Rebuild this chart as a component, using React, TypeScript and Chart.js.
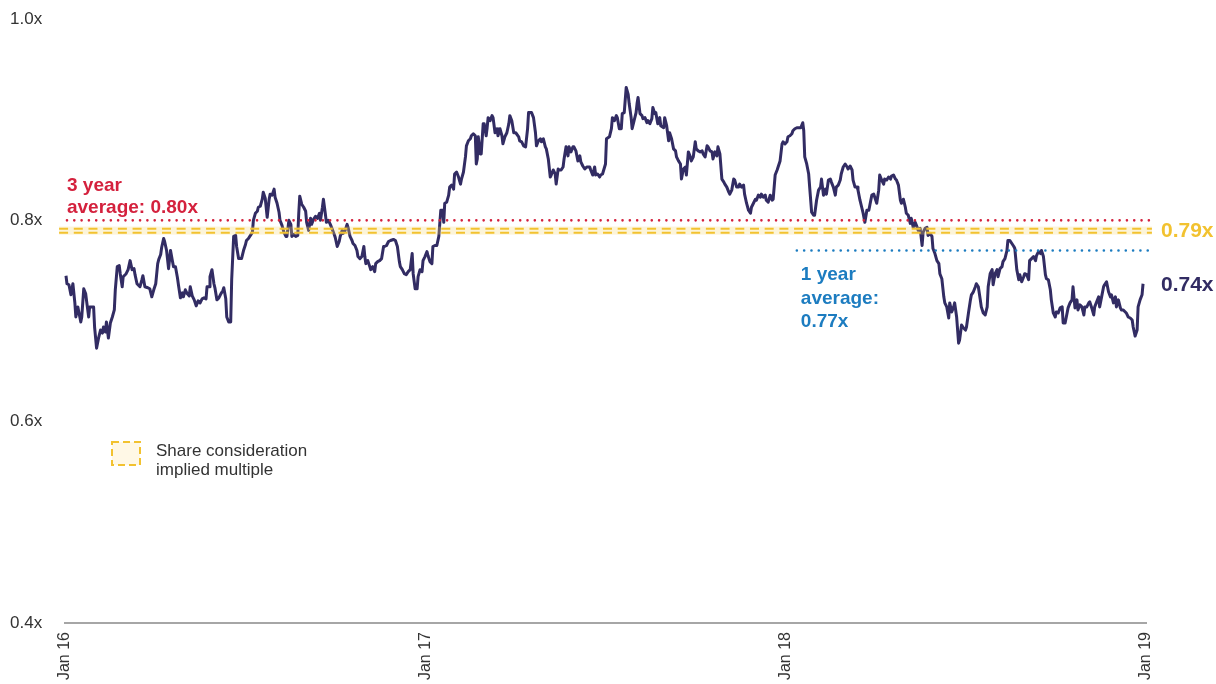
import { useEffect, useRef } from 'react';
import { Chart, registerables } from 'chart.js';

Chart.register(...registerables);

// ---- axis ticks (x = days since 1 Jan 2016) ----
const X_TICKS = [0, 366, 731, 1096];
const X_TICK_LABELS = ['Jan 16', 'Jan 17', 'Jan 18', 'Jan 19'];
const Y_TICKS = [0.4, 0.6, 0.8, 1.0];
const Y_TICK_LABELS = ['0.4x', '0.6x', '0.8x', '1.0x'];

// ---- reference levels ----
const AVG_3Y = 0.8;
const AVG_3Y_SPAN = [2, 1103];
const AVG_1Y = 0.77;
const AVG_1Y_SPAN = [742, 1105];
const IMPLIED_UPPER = 0.7916;
const IMPLIED_LOWER = 0.7877;
const IMPLIED_FILL = [0.7858, 0.7938];
const IMPLIED_SPAN = [-6, 1102];

// ---- labels ----
const AVG_3Y_TEXT = ['3 year', 'average: 0.80x'];
const AVG_1Y_TEXT = ['1 year', 'average:', '0.77x'];
const IMPLIED_TEXT = '0.79x';
const LAST_TEXT = '0.74x';
const LEGEND_TEXT = ['Share consideration', 'implied multiple'];

// ---- P/B multiple series: [day, multiple] ----
const SERIES_2016A: [number, number][] = [
  [1, 0.745], [2, 0.737], [4, 0.736], [6, 0.726], [8, 0.737], [10, 0.718], [11, 0.704], [13, 0.714],
  [14, 0.709], [16, 0.699], [17, 0.704], [19, 0.732], [21, 0.727], [22, 0.719], [24, 0.704], [25, 0.714],
  [29, 0.714], [30, 0.694], [32, 0.673], [34, 0.683], [36, 0.691], [38, 0.688], [39, 0.694], [41, 0.689],
  [42, 0.699], [44, 0.683], [46, 0.698], [48, 0.704], [50, 0.711], [51, 0.731], [53, 0.754], [55, 0.755],
  [56, 0.747], [58, 0.734], [59, 0.744], [62, 0.747], [64, 0.751], [66, 0.76], [68, 0.751], [70, 0.752],
  [71, 0.746], [73, 0.737], [76, 0.734], [78, 0.741], [79, 0.745], [81, 0.734], [84, 0.733], [86, 0.732],
  [88, 0.724], [90, 0.731], [92, 0.737], [94, 0.757], [95, 0.761], [97, 0.766], [98, 0.773], [100, 0.782],
  [101, 0.779], [103, 0.77], [105, 0.752], [107, 0.77], [109, 0.759], [110, 0.754], [112, 0.754], [114, 0.743],
  [115, 0.736], [117, 0.723], [119, 0.728], [120, 0.724], [122, 0.731], [124, 0.727], [126, 0.725], [127, 0.734],
  [129, 0.725], [131, 0.721], [133, 0.715], [135, 0.72], [137, 0.718], [139, 0.722], [141, 0.723], [143, 0.722],
  [144, 0.734], [146, 0.734], [147, 0.744], [149, 0.751], [151, 0.737], [152, 0.733], [154, 0.721], [156, 0.723],
  [158, 0.727], [160, 0.73], [161, 0.733], [163, 0.722], [164, 0.704], [166, 0.699], [168, 0.699], [169, 0.741],
  [171, 0.784], [173, 0.785], [174, 0.774], [176, 0.762], [179, 0.762], [181, 0.77], [183, 0.776], [184, 0.78],
  [186, 0.782], [188, 0.785], [190, 0.788], [191, 0.8], [193, 0.807], [195, 0.809], [196, 0.813], [198, 0.814],
  [200, 0.821], [201, 0.828], [203, 0.822], [205, 0.803], [207, 0.821], [208, 0.826], [210, 0.825], [212, 0.831],
  [213, 0.823], [215, 0.817], [217, 0.808], [218, 0.8], [220, 0.795], [222, 0.788], [224, 0.784], [225, 0.784],
  [227, 0.8], [229, 0.796], [230, 0.784], [232, 0.786], [234, 0.784], [236, 0.785], [237, 0.807], [238, 0.824],
  [240, 0.816], [242, 0.813], [244, 0.809], [245, 0.798], [247, 0.79], [249, 0.802], [250, 0.796], [252, 0.801],
  [254, 0.804], [256, 0.802], [258, 0.807], [259, 0.8], [261, 0.813], [262, 0.821], [264, 0.806], [265, 0.798],
  [267, 0.8], [269, 0.796], [271, 0.791], [273, 0.786], [274, 0.783], [276, 0.774], [278, 0.779], [279, 0.784],
];

const SERIES_2016B: [number, number][] = [
  [281, 0.79], [282, 0.787], [284, 0.79], [286, 0.796], [287, 0.793], [289, 0.784], [291, 0.78], [292, 0.777],
  [294, 0.775], [296, 0.77], [297, 0.764], [299, 0.762], [301, 0.764], [303, 0.774], [304, 0.764], [305, 0.757],
  [307, 0.76], [309, 0.754], [310, 0.751], [312, 0.754], [314, 0.749], [315, 0.757], [317, 0.759], [319, 0.76],
  [321, 0.762], [323, 0.774], [324, 0.774], [326, 0.775], [328, 0.779], [330, 0.78], [333, 0.781], [335, 0.78],
  [337, 0.774], [339, 0.759], [340, 0.754], [342, 0.751], [344, 0.747], [346, 0.746], [348, 0.749], [350, 0.751],
  [352, 0.767], [353, 0.747], [355, 0.732], [357, 0.732], [358, 0.744], [360, 0.751], [362, 0.749], [363, 0.76],
  [365, 0.764], [367, 0.769], [368, 0.765], [370, 0.759], [372, 0.757], [373, 0.774], [375, 0.775], [377, 0.775],
  [379, 0.784], [380, 0.797], [381, 0.81], [383, 0.81], [384, 0.798], [385, 0.817], [387, 0.818], [389, 0.825],
  [390, 0.833], [392, 0.835], [394, 0.831], [395, 0.846], [397, 0.848], [399, 0.843], [401, 0.836], [402, 0.841],
  [404, 0.848], [406, 0.863], [407, 0.874], [409, 0.879], [411, 0.881], [412, 0.884], [414, 0.886], [416, 0.884],
  [417, 0.856], [418, 0.861], [419, 0.883], [421, 0.866], [422, 0.866], [424, 0.896], [425, 0.896], [427, 0.884],
  [428, 0.892], [429, 0.902], [431, 0.899], [433, 0.904], [434, 0.902], [436, 0.887], [438, 0.891], [439, 0.884],
  [441, 0.891], [443, 0.884], [444, 0.876], [446, 0.883], [448, 0.887], [450, 0.896], [451, 0.904], [453, 0.899],
  [455, 0.887], [457, 0.887], [460, 0.883], [461, 0.879], [463, 0.878], [465, 0.874], [467, 0.873], [469, 0.891],
  [470, 0.907], [473, 0.907], [475, 0.902], [477, 0.887], [478, 0.874], [480, 0.879], [482, 0.881], [483, 0.878],
  [485, 0.881], [487, 0.873], [488, 0.871], [490, 0.861], [492, 0.843], [493, 0.845], [495, 0.85], [497, 0.846],
  [498, 0.836], [500, 0.851], [501, 0.85], [503, 0.85], [505, 0.853], [506, 0.861], [508, 0.873], [510, 0.864],
  [511, 0.873], [513, 0.868], [515, 0.873], [516, 0.873], [518, 0.869], [520, 0.859], [522, 0.864], [523, 0.858],
  [525, 0.854], [527, 0.851], [529, 0.853], [532, 0.853], [533, 0.85], [535, 0.845], [537, 0.853], [538, 0.845],
  [540, 0.846], [542, 0.843], [543, 0.845], [545, 0.846], [548, 0.856],
];

const SERIES_2017: [number, number][] = [
  [549, 0.881], [552, 0.883], [554, 0.891], [555, 0.902], [557, 0.899], [559, 0.904], [560, 0.902], [562, 0.891],
  [564, 0.891], [565, 0.906], [567, 0.907], [569, 0.932], [571, 0.925], [572, 0.916], [574, 0.902], [575, 0.891],
  [577, 0.899], [579, 0.907], [580, 0.916], [581, 0.922], [583, 0.906], [585, 0.904], [586, 0.901], [588, 0.902],
  [590, 0.897], [591, 0.899], [593, 0.896], [595, 0.901], [596, 0.912], [598, 0.906], [599, 0.907], [601, 0.896],
  [603, 0.902], [604, 0.894], [607, 0.892], [608, 0.902], [610, 0.894], [612, 0.879], [613, 0.887], [615, 0.881],
  [617, 0.871], [619, 0.869], [620, 0.863], [622, 0.859], [624, 0.856], [625, 0.841], [627, 0.851], [629, 0.853],
  [630, 0.845], [632, 0.868], [634, 0.863], [635, 0.859], [637, 0.863], [639, 0.878], [640, 0.871], [642, 0.869],
  [644, 0.868], [646, 0.869], [647, 0.866], [649, 0.863], [651, 0.874], [652, 0.873], [654, 0.869], [656, 0.868],
  [657, 0.861], [659, 0.868], [661, 0.864], [662, 0.873], [664, 0.866], [666, 0.841], [668, 0.838], [669, 0.836],
  [671, 0.833], [673, 0.828], [674, 0.826], [676, 0.83], [678, 0.841], [679, 0.84], [681, 0.833], [683, 0.833],
  [684, 0.836], [686, 0.833], [688, 0.835], [689, 0.826], [691, 0.817], [693, 0.81], [695, 0.807], [696, 0.813],
  [698, 0.817], [700, 0.821], [701, 0.82], [703, 0.825], [705, 0.823], [706, 0.826], [708, 0.823], [710, 0.825],
  [711, 0.82], [713, 0.818], [715, 0.825], [717, 0.82], [718, 0.821], [720, 0.845], [722, 0.85], [723, 0.853],
  [725, 0.859], [727, 0.876], [728, 0.878], [730, 0.876], [732, 0.878], [733, 0.883], [735, 0.884], [737, 0.886],
  [738, 0.889], [740, 0.891], [742, 0.892], [744, 0.892], [746, 0.892], [748, 0.897], [749, 0.889], [750, 0.863],
  [752, 0.856], [754, 0.846], [755, 0.833], [757, 0.808], [759, 0.805], [760, 0.805], [762, 0.82], [764, 0.83],
  [766, 0.833], [767, 0.841], [769, 0.825], [771, 0.831], [772, 0.826], [774, 0.84], [776, 0.841], [777, 0.838],
  [779, 0.833], [781, 0.825], [782, 0.833], [784, 0.835], [786, 0.84], [787, 0.846], [789, 0.853], [791, 0.856],
  [793, 0.853], [794, 0.851], [796, 0.854], [798, 0.85], [799, 0.84], [801, 0.833], [803, 0.833], [804, 0.83],
  [806, 0.82], [808, 0.812], [809, 0.808], [811, 0.798], [813, 0.81], [815, 0.81], [816, 0.815], [818, 0.825],
  [820, 0.826], [821, 0.823], [823, 0.817], [825, 0.83], [826, 0.845],
];

const SERIES_2018: [number, number][] = [
  [828, 0.84], [830, 0.836], [831, 0.841], [833, 0.84], [835, 0.843], [837, 0.841], [838, 0.844], [840, 0.845],
  [842, 0.841], [843, 0.84], [845, 0.835], [847, 0.82], [848, 0.817], [850, 0.821], [852, 0.813], [853, 0.807],
  [855, 0.805], [857, 0.797], [858, 0.802], [860, 0.793], [862, 0.798], [864, 0.793], [865, 0.79], [867, 0.792],
  [869, 0.775], [870, 0.788], [872, 0.792], [874, 0.793], [875, 0.785], [877, 0.787], [879, 0.784], [880, 0.772],
  [882, 0.767], [884, 0.76], [886, 0.757], [887, 0.747], [889, 0.742], [891, 0.724], [892, 0.718], [894, 0.714],
  [896, 0.703], [897, 0.718], [899, 0.709], [901, 0.714], [902, 0.718], [904, 0.704], [906, 0.678], [907, 0.681],
  [909, 0.696], [911, 0.693], [913, 0.691], [914, 0.694], [916, 0.708], [918, 0.721], [919, 0.726], [921, 0.729],
  [923, 0.734], [924, 0.737], [926, 0.734], [928, 0.721], [929, 0.714], [931, 0.708], [933, 0.706], [935, 0.714],
  [936, 0.734], [938, 0.747], [940, 0.751], [941, 0.736], [943, 0.747], [945, 0.751], [946, 0.744], [948, 0.752],
  [950, 0.754], [951, 0.759], [953, 0.762], [955, 0.77], [956, 0.78], [958, 0.78], [960, 0.777], [962, 0.774],
  [963, 0.772], [965, 0.751], [967, 0.741], [968, 0.746], [970, 0.739], [972, 0.744], [973, 0.747], [975, 0.746],
  [977, 0.741], [978, 0.76], [980, 0.762], [982, 0.764], [984, 0.76], [985, 0.765], [987, 0.769], [989, 0.767],
  [990, 0.77], [992, 0.764], [994, 0.746], [995, 0.742], [997, 0.741], [999, 0.731], [1000, 0.721], [1002, 0.708],
  [1004, 0.704], [1005, 0.709], [1007, 0.708], [1009, 0.713], [1011, 0.714], [1012, 0.698], [1014, 0.698], [1016, 0.708],
  [1017, 0.713], [1019, 0.718], [1021, 0.721], [1022, 0.734], [1024, 0.713], [1026, 0.721], [1027, 0.711], [1029, 0.716],
  [1031, 0.714], [1033, 0.706], [1034, 0.714], [1036, 0.714], [1038, 0.718], [1039, 0.719], [1041, 0.713], [1043, 0.706],
  [1044, 0.714], [1046, 0.719], [1048, 0.724], [1049, 0.714], [1051, 0.724], [1053, 0.734], [1054, 0.736], [1056, 0.739],
  [1058, 0.729], [1060, 0.724], [1061, 0.726], [1063, 0.718], [1065, 0.724], [1066, 0.714], [1068, 0.721], [1070, 0.713],
  [1071, 0.711], [1073, 0.711], [1075, 0.709], [1076, 0.708], [1078, 0.704], [1080, 0.703], [1082, 0.701], [1083, 0.694],
  [1085, 0.685], [1087, 0.691], [1088, 0.714], [1090, 0.721], [1092, 0.726], [1093, 0.737],
];

const NAVY = '#322c63';
const RED = '#d4213d';
const BLUE = '#1c7cc0';
const YELLOW = '#f2c230';
const TEXT = '#333333';
const FONT = '"Liberation Sans", Arial, Helvetica, sans-serif';

const SERIES = [...SERIES_2016A, ...SERIES_2016B, ...SERIES_2017, ...SERIES_2018];
const MAIN_INDEX = 4;

const overlayPlugin = {
  id: 'overlay',
  afterDatasetDraw(chart: any, args: any) {
    if (args.index !== MAIN_INDEX) return;
    const { x, y } = chart.scales;
    const ctx = chart.ctx as CanvasRenderingContext2D;
    ctx.save();
    const x0 = x.getPixelForValue(IMPLIED_SPAN[0]);
    const x1 = x.getPixelForValue(IMPLIED_SPAN[1]);
    const yt = y.getPixelForValue(IMPLIED_FILL[1]);
    const yb = y.getPixelForValue(IMPLIED_FILL[0]);
    ctx.fillStyle = 'rgba(245, 214, 120, 0.28)';
    ctx.fillRect(x0, yt, x1 - x0, yb - yt);
    ctx.restore();
  },
  afterDraw(chart: any) {
    const { x, y } = chart.scales;
    const area = chart.chartArea;
    const ctx = chart.ctx as CanvasRenderingContext2D;
    ctx.save();
    ctx.textAlign = 'left';
    ctx.textBaseline = 'alphabetic';

    // 3 year average label
    ctx.font = `bold 19px ${FONT}`;
    ctx.fillStyle = RED;
    const y3 = y.getPixelForValue(AVG_3Y);
    const x3 = x.getPixelForValue(AVG_3Y_SPAN[0]);
    ctx.fillText(AVG_3Y_TEXT[0], x3, y3 - 29.8);
    ctx.fillText(AVG_3Y_TEXT[1], x3, y3 - 7.2);

    // 1 year average label
    ctx.fillStyle = BLUE;
    const y1 = y.getPixelForValue(AVG_1Y);
    const x1 = x.getPixelForValue(AVG_1Y_SPAN[0]) + 4;
    AVG_1Y_TEXT.forEach((t, i) => ctx.fillText(t, x1, y1 + 29.5 + i * 23.5));

    // right-hand value labels
    ctx.font = `bold 21px ${FONT}`;
    ctx.fillStyle = YELLOW;
    const ym = y.getPixelForValue((IMPLIED_UPPER + IMPLIED_LOWER) / 2);
    ctx.fillText(IMPLIED_TEXT, area.right + 15, ym + 6);
    ctx.fillStyle = NAVY;
    const last = SERIES[SERIES.length - 1];
    ctx.fillText(LAST_TEXT, area.right + 15, y.getPixelForValue(last[1]) + 7.2);

    // legend
    ctx.fillStyle = '#fff8e6';
    ctx.fillRect(112, 442, 28, 23);
    ctx.strokeStyle = YELLOW;
    ctx.lineWidth = 2;
    ctx.setLineDash([7, 4]);
    ctx.strokeRect(112, 442, 28, 23);
    ctx.setLineDash([]);
    ctx.font = `17px ${FONT}`;
    ctx.fillStyle = TEXT;
    ctx.fillText(LEGEND_TEXT[0], 156, 456);
    ctx.fillText(LEGEND_TEXT[1], 156, 475);
    ctx.restore();
  },
};

export default function App() {
  const ref = useRef<HTMLCanvasElement>(null);

  useEffect(() => {
    if (!ref.current) return;
    const refLine = (span: number[], value: number) => span.map((d) => ({ x: d, y: value }));
    const chart = new Chart(ref.current, {
      type: 'line',
      data: {
        datasets: [
          {
            label: '3 year average',
            data: refLine(AVG_3Y_SPAN, AVG_3Y),
            borderColor: RED,
            borderWidth: 2.6,
            borderDash: [0.01, 7.3],
            borderCapStyle: 'round',
            pointRadius: 0,
            clip: false,
          },
          {
            label: 'Implied upper',
            data: refLine(IMPLIED_SPAN, IMPLIED_UPPER),
            borderColor: YELLOW,
            borderWidth: 2,
            borderDash: [9, 5.7],
            pointRadius: 0,
            clip: false,
          },
          {
            label: 'Implied lower',
            data: refLine(IMPLIED_SPAN, IMPLIED_LOWER),
            borderColor: YELLOW,
            borderWidth: 2,
            borderDash: [9, 5.7],
            pointRadius: 0,
            clip: false,
          },
          {
            label: '1 year average',
            data: refLine(AVG_1Y_SPAN, AVG_1Y),
            borderColor: BLUE,
            borderWidth: 2.6,
            borderDash: [0.01, 7.3],
            borderCapStyle: 'round',
            pointRadius: 0,
            clip: false,
          },
          {
            label: 'P/B multiple',
            data: SERIES.map(([d, v]) => ({ x: d, y: v })),
            borderColor: NAVY,
            borderWidth: 3,
            borderJoinStyle: 'round',
            pointRadius: 0,
            tension: 0,
            clip: false,
          },
        ],
      },
      options: {
        animation: false,
        responsive: false,
        maintainAspectRatio: false,
        layout: { padding: { left: 10, right: 70, top: 19, bottom: 0 } },
        plugins: { legend: { display: false }, tooltip: { enabled: false } },
        scales: {
          x: {
            type: 'linear',
            min: X_TICKS[0],
            max: X_TICKS[X_TICKS.length - 1],
            afterBuildTicks: (s: any) => {
              s.ticks = X_TICKS.map((v) => ({ value: v }));
            },
            afterFit: (s: any) => {
              s.height = 61;
            },
            grid: { display: false, drawTicks: false },
            border: { display: true, color: '#a6a6a6', width: 2 },
            ticks: {
              autoSkip: false,
              maxRotation: 90,
              minRotation: 90,
              padding: 9,
              color: TEXT,
              font: { family: FONT, size: 16 },
              callback: (_v: any, i: number) => X_TICK_LABELS[i],
            },
          },
          y: {
            type: 'linear',
            min: Y_TICKS[0],
            max: Y_TICKS[Y_TICKS.length - 1],
            afterBuildTicks: (s: any) => {
              s.ticks = Y_TICKS.map((v) => ({ value: v }));
            },
            afterFit: (s: any) => {
              s.width = 55;
            },
            grid: { display: false, drawTicks: false },
            border: { display: false },
            ticks: {
              crossAlign: 'far',
              color: TEXT,
              font: { family: FONT, size: 17 },
              callback: (_v: any, i: number) => Y_TICK_LABELS[i],
            },
          },
        },
      },
      plugins: [overlayPlugin],
    } as any);
    return () => chart.destroy();
  }, []);

  return (
    <div style={{ position: 'fixed', left: 0, top: 0, width: 1216, height: 684, background: '#fff' }}>
      <canvas ref={ref} width={1216} height={684} style={{ width: 1216, height: 684, display: 'block' }} />
    </div>
  );
}
